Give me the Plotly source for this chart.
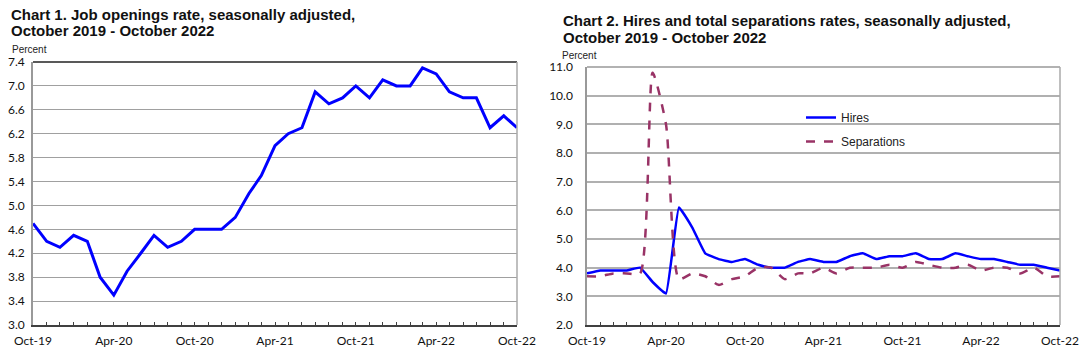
import plotly.graph_objects as go
import pandas as pd

# ---------------- data ----------------
months = pd.date_range("2019-10-01", "2022-10-01", freq="MS")
month_labels = [d.strftime("%b-%y") for d in months]

job_openings = [4.7, 4.4, 4.3, 4.5, 4.4, 3.8, 3.5, 3.9, 4.2, 4.5, 4.3, 4.4,
                4.6, 4.6, 4.6, 4.8, 5.2, 5.5, 6.0, 6.2, 6.3, 6.9, 6.7, 6.8,
                7.0, 6.8, 7.1, 7.0, 7.0, 7.3, 7.2, 6.9, 6.8, 6.8, 6.3, 6.5, 6.3]

hires = [3.8, 3.9, 3.9, 3.9, 4.0, 3.5, 3.1, 6.1, 5.4, 4.5, 4.3, 4.2,
         4.3, 4.1, 4.0, 4.0, 4.2, 4.3, 4.2, 4.2, 4.4, 4.5, 4.3, 4.4,
         4.4, 4.5, 4.3, 4.3, 4.5, 4.4, 4.3, 4.3, 4.2, 4.1, 4.1, 4.0, 3.9]

separations = [3.7, 3.7, 3.8, 3.8, 3.8, 10.8, 9.0, 3.6, 3.8, 3.7, 3.4, 3.6,
               3.7, 4.0, 4.0, 3.6, 3.8, 3.8, 4.0, 3.8, 4.0, 4.0, 4.0, 4.1,
               4.0, 4.2, 4.1, 4.0, 4.0, 4.1, 3.9, 4.0, 4.0, 3.8, 4.0, 3.7, 3.7]

chart1_title = ["Chart 1. Job openings rate, seasonally adjusted,",
                "October 2019 - October 2022"]
chart2_title = ["Chart 2. Hires and total separations rates, seasonally adjusted,",
                "October 2019 - October 2022"]

y1_ticks = [3.0, 3.4, 3.8, 4.2, 4.6, 5.0, 5.4, 5.8, 6.2, 6.6, 7.0, 7.4]
y2_ticks = [2.0, 3.0, 4.0, 5.0, 6.0, 7.0, 8.0, 9.0, 10.0, 11.0]

# ---------------- layout geometry ----------------
W, H = 1080, 350
def px_x(a): return a / W
def px_y(a): return 1 - a / H

x_ticktext = [lab if i % 6 == 0 else "" for i, lab in enumerate(month_labels)]

fig = go.Figure()

fig.add_trace(go.Scatter(x=months, y=job_openings, mode="lines",
                         line=dict(color="#0000FF", width=3),
                         showlegend=False, xaxis="x", yaxis="y"))

fig.add_trace(go.Scatter(x=months, y=hires, mode="lines", name="Hires",
                         line=dict(color="#0000FF", width=2.5, shape="spline", smoothing=0.3),
                         legendgroup="a", xaxis="x2", yaxis="y2"))
fig.add_trace(go.Scatter(x=months, y=separations, mode="lines", name="Separations",
                         line=dict(color="#993366", width=2.5, dash="dash", shape="spline", smoothing=0.6),
                         legendgroup="b", xaxis="x2", yaxis="y2"))

tickfont = dict(family="Lato, Arial", size=12, color="#111111")

common_x = dict(
    tickmode="array", tickvals=list(months), ticktext=x_ticktext,
    ticks="inside", ticklen=3, tickcolor="#404040", tickwidth=1,
    showline=True, linecolor="#404040", linewidth=1.5,
    showgrid=False, zeroline=False, tickfont=tickfont,
    range=[months[0], months[-1]], ticklabelstandoff=4, automargin=False,
)

fig.update_layout(
    width=W, height=H,
    margin=dict(l=0, r=0, t=0, b=0, autoexpand=False),
    paper_bgcolor="white", plot_bgcolor="white",
    xaxis=dict(domain=[px_x(33), px_x(517)], anchor="y", **common_x),
    yaxis=dict(domain=[px_y(325), px_y(62)], anchor="x", range=[3.0, 7.4],
               tickvals=y1_ticks, ticktext=[f"{v:.1f}" for v in y1_ticks],
               showgrid=True, gridcolor="#A0A0A0", gridwidth=1,
               showline=True, linecolor="#999999", linewidth=1.5,
               ticks="", zeroline=False, tickfont=tickfont, ticklabelstandoff=4,
               automargin=False),
    xaxis2=dict(domain=[px_x(587), px_x(1060)], anchor="y2", **common_x),
    yaxis2=dict(domain=[px_y(325), px_y(67)], anchor="x2", range=[2.0, 11.0],
                tickvals=y2_ticks, ticktext=[f"{v:.1f}" for v in y2_ticks],
                showgrid=True, gridcolor="#B0B0B0", gridwidth=1.5,
                showline=True, linecolor="#999999", linewidth=1.5,
                ticks="", zeroline=False, tickfont=tickfont, ticklabelstandoff=10,
                automargin=False),
    legend=dict(x=px_x(801), y=px_y(103), xanchor="left", yanchor="top",
                bgcolor="rgba(0,0,0,0)", font=dict(family="Arial", size=12, color="#222222"),
                tracegroupgap=5, itemwidth=30),
    showlegend=True,
)

# frame lines (top/right)
fig.add_shape(type="line", xref="x domain", yref="y domain", x0=0, x1=1, y0=1, y1=1,
              line=dict(color="#222222", width=1.5))
fig.add_shape(type="line", xref="x domain", yref="y domain", x0=1, x1=1, y0=0, y1=1,
              line=dict(color="#AAAAAA", width=1.5))
fig.add_shape(type="line", xref="x2 domain", yref="y2 domain", x0=0, x1=1, y0=1, y1=1,
              line=dict(color="#999999", width=1.5))
fig.add_shape(type="line", xref="x2 domain", yref="y2 domain", x0=1, x1=1, y0=0, y1=1,
              line=dict(color="#AAAAAA", width=1.5))

title_font = dict(family="Arial", size=15, color="#111111")
for txt, yy in zip(chart1_title, [14, 31]):
    fig.add_annotation(text="<b>" + txt + "</b>", xref="paper", yref="paper",
                       x=px_x(9), y=px_y(yy), xanchor="left", yanchor="middle",
                       showarrow=False, font=title_font)
for txt, yy in zip(chart2_title, [20, 38]):
    fig.add_annotation(text="<b>" + txt + "</b>", xref="paper", yref="paper",
                       x=px_x(561), y=px_y(yy), xanchor="left", yanchor="middle",
                       showarrow=False, font=title_font)
pct_font = dict(family="Arial", size=10, color="#222222")
fig.add_annotation(text="Percent", xref="paper", yref="paper", x=px_x(10), y=px_y(50),
                   xanchor="left", yanchor="middle", showarrow=False, font=pct_font)
fig.add_annotation(text="Percent", xref="paper", yref="paper", x=px_x(560), y=px_y(55),
                   xanchor="left", yanchor="middle", showarrow=False, font=pct_font)

fig.write_html("out.html")
